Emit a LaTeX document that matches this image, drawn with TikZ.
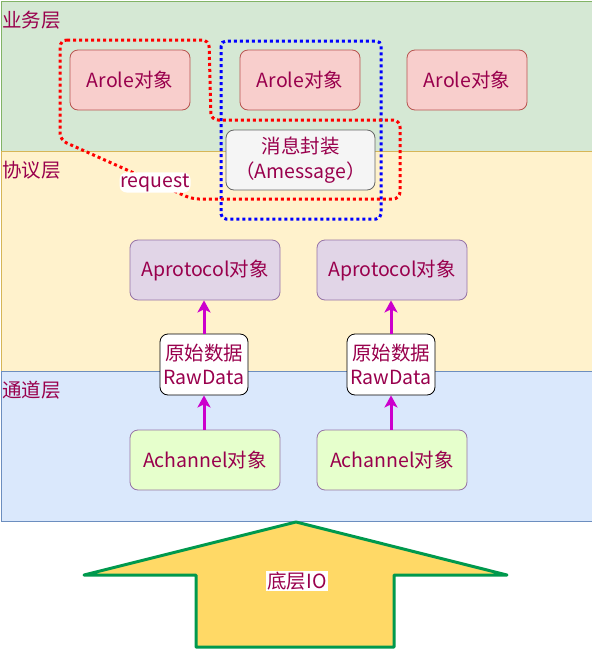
\documentclass[tikz,border=0pt]{standalone}
\usepackage{fontspec}
\setmainfont{Noto Sans CJK SC}
\usetikzlibrary{arrows.meta}
\definecolor{txt}{HTML}{99004D}
\definecolor{gfill}{HTML}{D5E8D4}
\definecolor{gline}{HTML}{82B366}
\definecolor{yfill}{HTML}{FFF2CC}
\definecolor{yline}{HTML}{D6B656}
\definecolor{bfill}{HTML}{DAE8FC}
\definecolor{bline}{HTML}{6C8EBF}
\definecolor{rfill}{HTML}{F8CECC}
\definecolor{rline}{HTML}{B85450}
\definecolor{mfill}{HTML}{F5F5F5}
\definecolor{mline}{HTML}{666666}
\definecolor{pfill}{HTML}{E1D5E7}
\definecolor{pline}{HTML}{9673A6}
\definecolor{cfill}{HTML}{E6FFCC}
\definecolor{arrcol}{HTML}{CC00CC}
\definecolor{iofill}{HTML}{FFD966}
\definecolor{ioline}{HTML}{00994D}
\tikzset{
  layerbox/.style={anchor=north west, inner sep=0pt, minimum width=591pt, line width=0.8pt},
  layerlbl/.style={anchor=west, inner sep=0pt, text=txt},
  objbox/.style={rounded corners=8pt, inner sep=0pt, line width=0.8pt, text=txt, align=center},
  dotline/.style={line width=3pt, dash pattern=on 3pt off 3pt},
  uparr/.style={arrcol, line width=3pt, -{Stealth[length=12pt,width=13pt,inset=3pt]}},
}
\begin{document}
\begin{tikzpicture}[x=1pt,y=-1pt,font=\fontsize{19.5}{24.5}\selectfont]
\useasboundingbox (0,0) rectangle (592,651);
\fill[white] (0,0) rectangle (592,651);
% layers
\node[layerbox, fill=gfill, draw=gline, minimum height=150pt] (biz) at (0.5,0.5) {};
\node[layerbox, fill=yfill, draw=yline, minimum height=220pt] (proto) at (0.5,150.5) {};
\node[layerbox, fill=bfill, draw=bline, minimum height=150pt] (chan) at (0.5,370.5) {};
\node[layerlbl] (bizlbl) at (2,20) {业务层};
\node[layerlbl] (protolbl) at (2,170) {协议层};
\node[layerlbl] (chanlbl) at (2,390) {通道层};
% blue dotted region
\draw[blue, dotline, rounded corners=5pt] (221,41) rectangle (381,219);
% role objects
\node[objbox, fill=rfill, draw=rline, minimum width=120pt, minimum height=60pt] (role1) at (130,80) {Arole对象};
\node[objbox, fill=rfill, draw=rline, minimum width=120pt, minimum height=60pt] (role2) at (300,80) {Arole对象};
\node[objbox, fill=rfill, draw=rline, minimum width=120pt, minimum height=60pt] (role3) at (467,80) {Arole对象};
\node[objbox, fill=mfill, draw=mline, minimum width=149pt, minimum height=60pt] (msg) at (300.5,160) {消息封装\\（Amessage）};
% red dotted request region
\draw[red, dotline, rounded corners=7pt] (60,40) -- (209,40) -- (211,120) -- (400,120) -- (400,199) -- (192,199)
  -- node[pos=0.28, fill=white, text=txt, inner sep=1pt] (req) {request} (60,140) -- cycle;
% protocol
\node[objbox, fill=pfill, draw=pline, minimum width=150pt, minimum height=60pt] (pro1) at (205,270) {Aprotocol对象};
\node[objbox, fill=pfill, draw=pline, minimum width=150pt, minimum height=60pt] (pro2) at (392,270) {Aprotocol对象};
% raw data
\node[objbox, fill=white, draw=black, minimum width=88pt, minimum height=61pt] (raw1) at (204,364.5) {原始数据\\RawData};
\node[objbox, fill=white, draw=black, minimum width=88pt, minimum height=61pt] (raw2) at (391,364.5) {原始数据\\RawData};
% channel
\node[objbox, fill=cfill, draw=pline, minimum width=150pt, minimum height=60pt] (ch1) at (205,460) {Achannel对象};
\node[objbox, fill=cfill, draw=pline, minimum width=150pt, minimum height=60pt] (ch2) at (392,460) {Achannel对象};
% arrows
\draw[uparr] (ch1.north -| raw1.south) -- (raw1.south);
\draw[uparr] (raw1.north) -- (raw1.north |- pro1.south);
\draw[uparr] (ch2.north -| raw2.south) -- (raw2.south);
\draw[uparr] (raw2.north) -- (raw2.north |- pro2.south);
% bottom IO arrow
\draw[fill=iofill, draw=ioline, line width=3pt, line join=round] (296,522) -- (507,575) -- (394,575) -- (394,647) -- (196,647) -- (196,575) -- (84,575) -- cycle;
\node[fill=white, text=txt, inner sep=1pt] (io) at (297,581) {底层IO};
\end{tikzpicture}
\end{document}
